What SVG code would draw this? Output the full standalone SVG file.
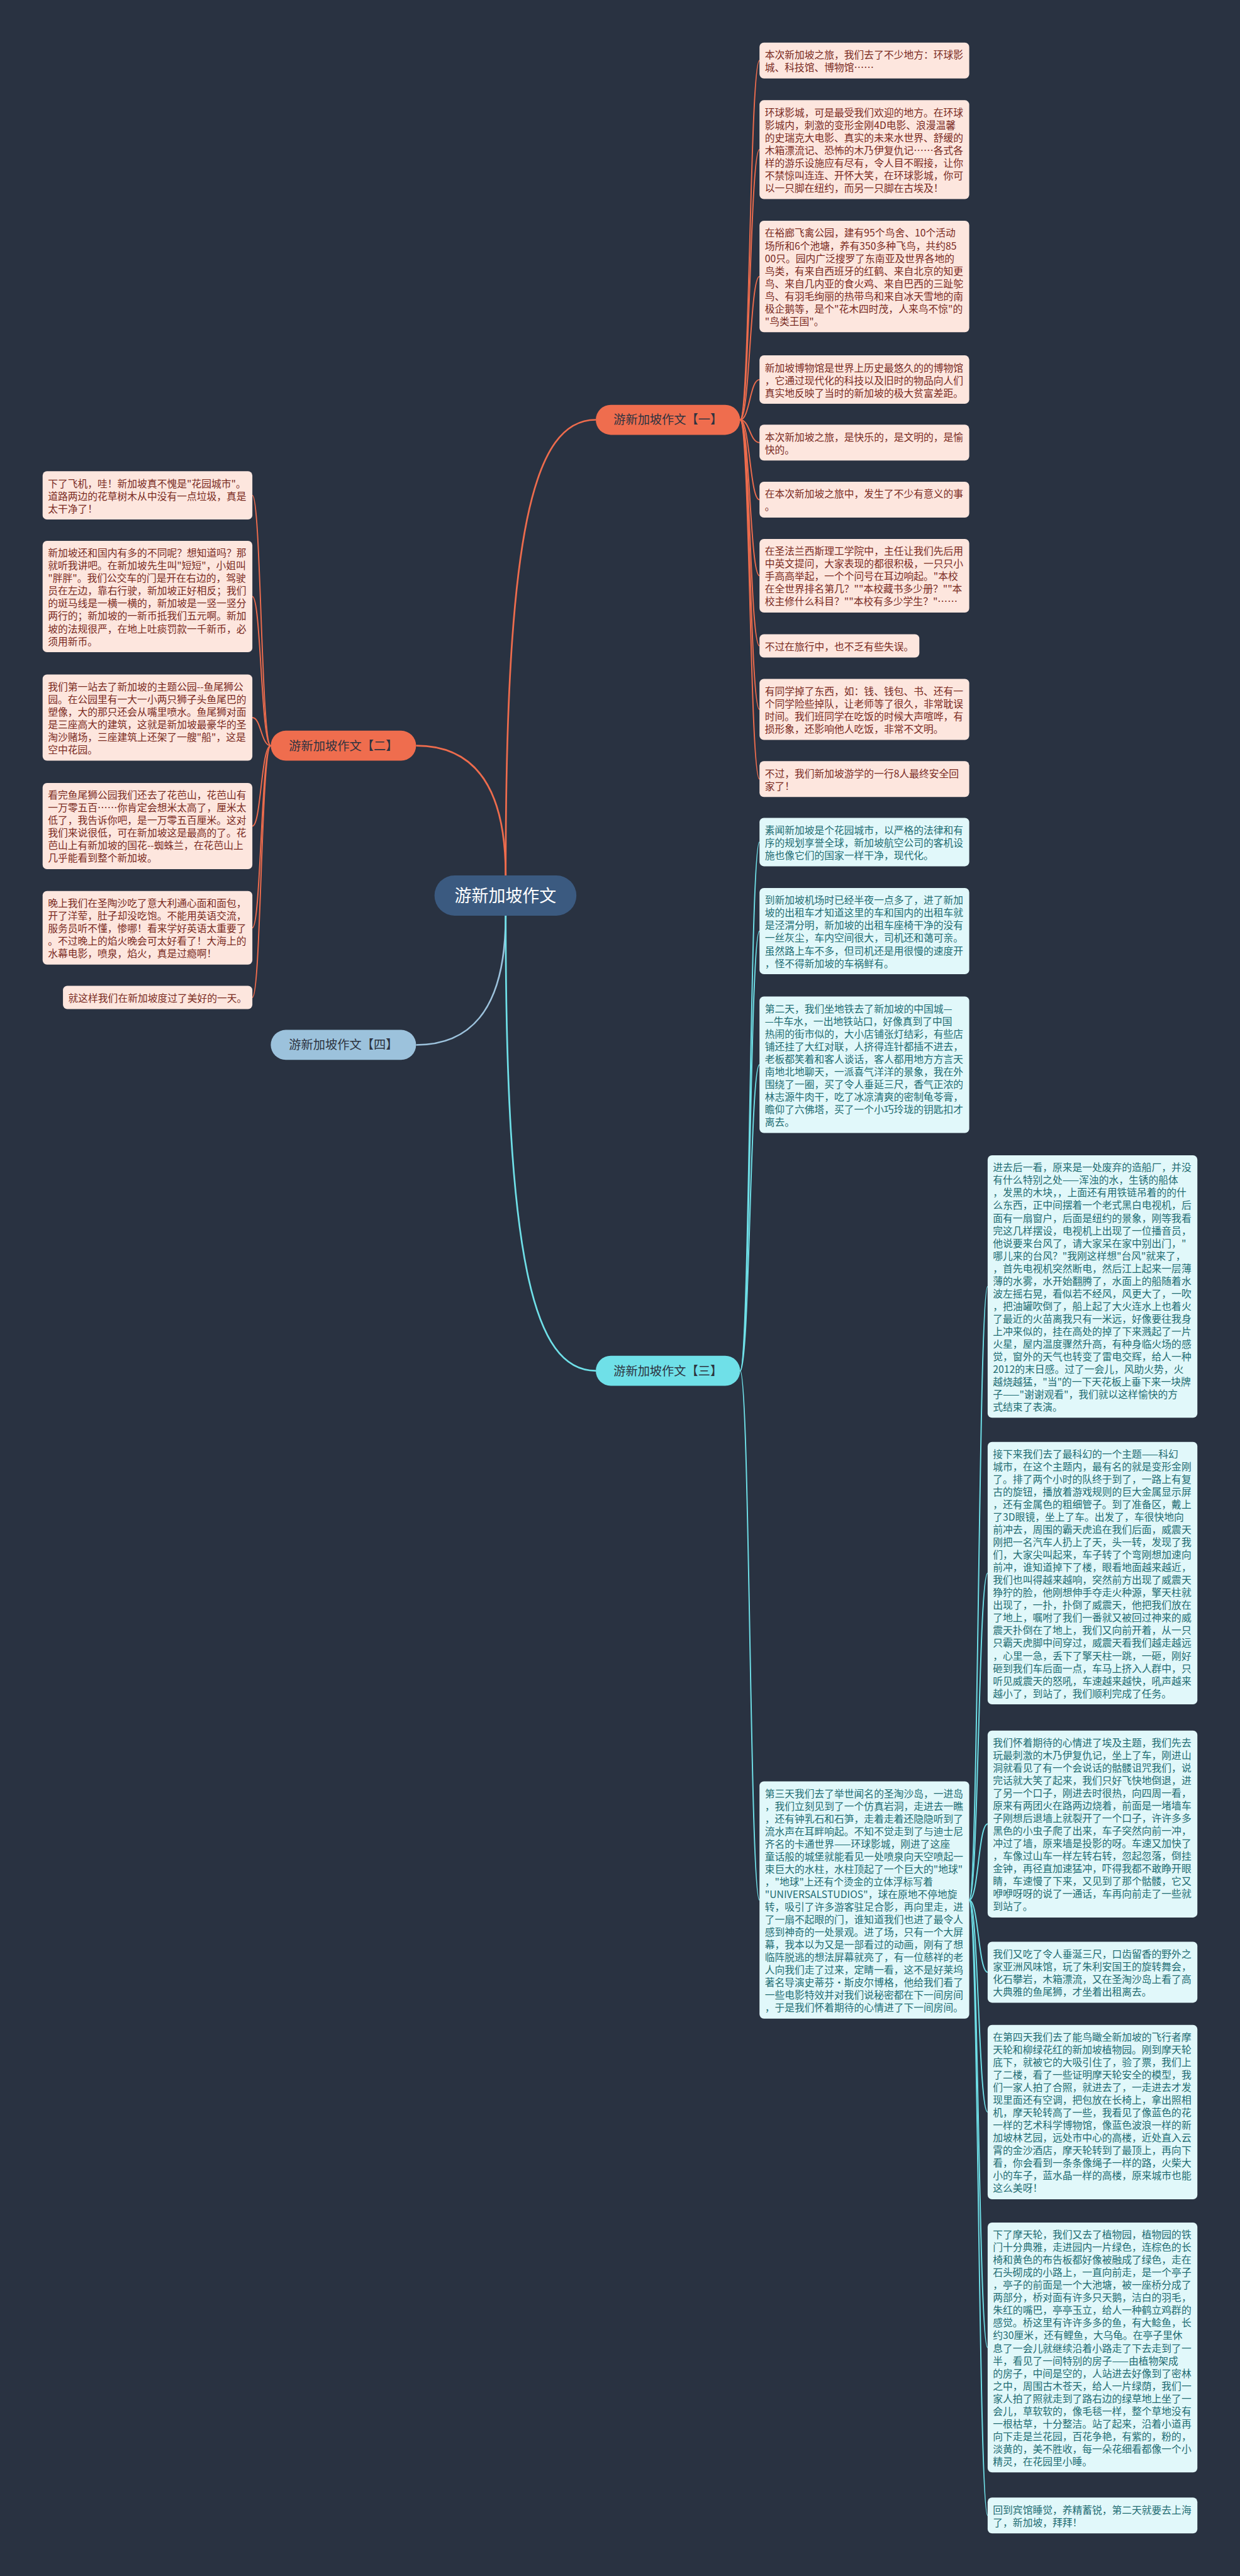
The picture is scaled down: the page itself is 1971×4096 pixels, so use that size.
<svg xmlns="http://www.w3.org/2000/svg" width="1971" height="4096" viewBox="0 0 1971 4096">
<style>
.bg{fill:#293241}
text{font-family:"Noto Sans CJK SC","Noto Sans CJK JP",sans-serif}
.lo{fill:#fde6de}
.lc{fill:#e1f8fa}
.to{fill:#7a2a1e;font-size:20.5px}
.tc{fill:#1e6c72;font-size:20.5px}
.co{fill:none;stroke:#ee6c4d;stroke-width:2.5}
.cc{fill:none;stroke:#6fe0e8;stroke-width:2.5}
.cb{fill:none;stroke:#9cc2dc;stroke-width:3.5}
.main{stroke-width:3.5}
.nt{font-size:25px;fill:#2d3340;text-anchor:middle}
</style>
<rect class="bg" x="0" y="0" width="1971" height="4096"/>
<g transform="scale(0.76992)">
<g id="connectors">
<path class="co main" d="M1044 1808 C1044 1100,1100 867,1230 867"/>
<path class="co main" d="M1044 1808 C1044 1600,960 1540,859 1540"/>
<path class="cb" d="M1044 1891 C1044 2100,960 2158,859 2158"/>
<path class="cc main" d="M1044 1891 C1044 2600,1100 2831,1230 2831"/>
<path class="co" d="M1528 867 C1548 867,1548 125,1568 125"/>
<path class="co" d="M1528 867 C1548 867,1548 309,1568 309"/>
<path class="co" d="M1528 867 C1548 867,1548 571,1568 571"/>
<path class="co" d="M1528 867 C1548 867,1548 784,1568 784"/>
<path class="co" d="M1528 867 C1548 867,1548 914,1568 914"/>
<path class="co" d="M1528 867 C1548 867,1548 1032,1568 1032"/>
<path class="co" d="M1528 867 C1548 867,1548 1189,1568 1189"/>
<path class="co" d="M1528 867 C1548 867,1548 1334,1568 1334"/>
<path class="co" d="M1528 867 C1548 867,1548 1465,1568 1465"/>
<path class="co" d="M1528 867 C1548 867,1548 1609,1568 1609"/>
<path class="co" d="M559 1540 C539 1540,539 1023,521 1023"/>
<path class="co" d="M559 1540 C539 1540,539 1232,521 1232"/>
<path class="co" d="M559 1540 C539 1540,539 1482,521 1482"/>
<path class="co" d="M559 1540 C539 1540,539 1706,521 1706"/>
<path class="co" d="M559 1540 C539 1540,539 1916,521 1916"/>
<path class="co" d="M559 1540 C539 1540,539 2060,521 2060"/>
<path class="cc" d="M1528 2831 C1548 2831,1548 1739,1568 1739"/>
<path class="cc" d="M1528 2831 C1548 2831,1548 1923,1568 1923"/>
<path class="cc" d="M1528 2831 C1548 2831,1548 2199,1568 2199"/>
<path class="cc" d="M1528 2831 C1548 2831,1548 3924,1568 3924"/>
<path class="cc" d="M2001 3924 C2020 3924,2020 2657,2039 2657"/>
<path class="cc" d="M2001 3924 C2020 3924,2020 3249,2039 3249"/>
<path class="cc" d="M2001 3924 C2020 3924,2020 3767,2039 3767"/>
<path class="cc" d="M2001 3924 C2020 3924,2020 4073,2039 4073"/>
<path class="cc" d="M2001 3924 C2020 3924,2020 4362,2039 4362"/>
<path class="cc" d="M2001 3924 C2020 3924,2020 4848,2039 4848"/>
<path class="cc" d="M2001 3924 C2020 3924,2020 5195,2039 5195"/>
</g>
<g id="root">
<rect x="897" y="1808" width="293" height="83" rx="41.5" fill="#3b5a80"/>
<text x="1043.5" y="1862" font-size="35" fill="#ffffff" text-anchor="middle">游新加坡作文</text>
</g>
<g id="branch1">
<rect x="1230" y="836" width="298" height="62" rx="31" fill="#ef6d4e"/>
<text class="nt" x="1379" y="876">游新加坡作文【一】</text>
</g>
<g id="branch2">
<rect x="559" y="1509" width="300" height="62" rx="31" fill="#ef6d4e"/>
<text class="nt" x="709" y="1549">游新加坡作文【二】</text>
</g>
<g id="branch3">
<rect x="1230" y="2800" width="298" height="62" rx="31" fill="#6fe0e8"/>
<text class="nt" x="1379" y="2840">游新加坡作文【三】</text>
</g>
<g id="branch4">
<rect x="559" y="2127" width="300" height="62" rx="31" fill="#9cc2dc"/>
<text class="nt" x="709" y="2167">游新加坡作文【四】</text>
</g>

<g id="b1"><rect class="lo" x="1568" y="88" width="433" height="74" rx="9"/>
<text class="to" x="1579" y="121"><tspan x="1579">本次新加坡之旅，我们去了不少地方：环球影</tspan><tspan x="1579" dy="26">城、科技馆、博物馆……</tspan></text></g>
<g id="b2"><rect class="lo" x="1568" y="207" width="433" height="204" rx="9"/>
<text class="to" x="1579" y="240"><tspan x="1579">环球影城，可是最受我们欢迎的地方。在环球</tspan><tspan x="1579" dy="26">影城内，刺激的变形金刚4D电影、浪漫温馨</tspan><tspan x="1579" dy="26">的史瑞克大电影、真实的未来水世界、舒缓的</tspan><tspan x="1579" dy="26">木箱漂流记、恐怖的木乃伊复仇记……各式各</tspan><tspan x="1579" dy="26">样的游乐设施应有尽有，令人目不暇接，让你</tspan><tspan x="1579" dy="26">不禁惊叫连连、开怀大笑，在环球影城，你可</tspan><tspan x="1579" dy="26">以一只脚在纽约，而另一只脚在古埃及！</tspan></text></g>
<g id="b3"><rect class="lo" x="1568" y="456" width="433" height="230" rx="9"/>
<text class="to" x="1579" y="489"><tspan x="1579">在裕廊飞禽公园，建有95个鸟舍、10个活动</tspan><tspan x="1579" dy="26">场所和6个池塘，养有350多种飞鸟，共约85</tspan><tspan x="1579" dy="26">00只。园内广泛搜罗了东南亚及世界各地的</tspan><tspan x="1579" dy="26">鸟类，有来自西班牙的红鹤、来自北京的知更</tspan><tspan x="1579" dy="26">鸟、来自几内亚的食火鸡、来自巴西的三趾鸵</tspan><tspan x="1579" dy="26">鸟、有羽毛绚丽的热带鸟和来自冰天雪地的南</tspan><tspan x="1579" dy="26">极企鹅等，是个"花木四时茂，人来鸟不惊"的</tspan><tspan x="1579" dy="26">"鸟类王国"。</tspan></text></g>
<g id="b4"><rect class="lo" x="1568" y="734" width="433" height="100" rx="9"/>
<text class="to" x="1579" y="767"><tspan x="1579">新加坡博物馆是世界上历史最悠久的的博物馆</tspan><tspan x="1579" dy="26">，它通过现代化的科技以及旧时的物品向人们</tspan><tspan x="1579" dy="26">真实地反映了当时的新加坡的极大贫富差距。</tspan></text></g>
<g id="b5"><rect class="lo" x="1568" y="877" width="433" height="74" rx="9"/>
<text class="to" x="1579" y="910"><tspan x="1579">本次新加坡之旅，是快乐的，是文明的，是愉</tspan><tspan x="1579" dy="26">快的。</tspan></text></g>
<g id="b6"><rect class="lo" x="1568" y="995" width="433" height="74" rx="9"/>
<text class="to" x="1579" y="1028"><tspan x="1579">在本次新加坡之旅中，发生了不少有意义的事</tspan><tspan x="1579" dy="26">。</tspan></text></g>
<g id="b7"><rect class="lo" x="1568" y="1113" width="433" height="152" rx="9"/>
<text class="to" x="1579" y="1146"><tspan x="1579">在圣法兰西斯理工学院中，主任让我们先后用</tspan><tspan x="1579" dy="26">中英文提问，大家表现的都很积极，一只只小</tspan><tspan x="1579" dy="26">手高高举起，一个个问号在耳边响起。"本校</tspan><tspan x="1579" dy="26">在全世界排名第几？""本校藏书多少册？""本</tspan><tspan x="1579" dy="26">校主修什么科目？""本校有多少学生？"……</tspan></text></g>
<g id="b8"><rect class="lo" x="1568" y="1310" width="330" height="48" rx="9"/>
<text class="to" x="1579" y="1343">不过在旅行中，也不乏有些失误。</text></g>
<g id="b9"><rect class="lo" x="1568" y="1402" width="433" height="126" rx="9"/>
<text class="to" x="1579" y="1435"><tspan x="1579">有同学掉了东西，如：钱、钱包、书、还有一</tspan><tspan x="1579" dy="26">个同学险些掉队，让老师等了很久，非常耽误</tspan><tspan x="1579" dy="26">时间。我们班同学在吃饭的时候大声喧哗，有</tspan><tspan x="1579" dy="26">损形象，还影响他人吃饭，非常不文明。</tspan></text></g>
<g id="b10"><rect class="lo" x="1568" y="1572" width="433" height="74" rx="9"/>
<text class="to" x="1579" y="1605"><tspan x="1579">不过，我们新加坡游学的一行8人最终安全回</tspan><tspan x="1579" dy="26">家了！</tspan></text></g>

<g id="a1"><rect class="lo" x="88" y="973" width="433" height="100" rx="9"/>
<text class="to" x="99" y="1006"><tspan x="99">下了飞机，哇！新加坡真不愧是"花园城市"。</tspan><tspan x="99" dy="26">道路两边的花草树木从中没有一点垃圾，真是</tspan><tspan x="99" dy="26">太干净了！</tspan></text></g>
<g id="a2"><rect class="lo" x="88" y="1117" width="433" height="230" rx="9"/>
<text class="to" x="99" y="1150"><tspan x="99">新加坡还和国内有多的不同呢？想知道吗？那</tspan><tspan x="99" dy="26">就听我讲吧。在新加坡先生叫"短短"，小姐叫</tspan><tspan x="99" dy="26">"胖胖"。我们公交车的门是开在右边的，驾驶</tspan><tspan x="99" dy="26">员在左边，靠右行驶，新加坡正好相反；我们</tspan><tspan x="99" dy="26">的斑马线是一横一横的，新加坡是一竖一竖分</tspan><tspan x="99" dy="26">两行的；新加坡的一新币抵我们五元啊。新加</tspan><tspan x="99" dy="26">坡的法规很严，在地上吐痰罚款一千新币，必</tspan><tspan x="99" dy="26">须用新币。</tspan></text></g>
<g id="a3"><rect class="lo" x="88" y="1393" width="433" height="178" rx="9"/>
<text class="to" x="99" y="1426"><tspan x="99">我们第一站去了新加坡的主题公园--鱼尾狮公</tspan><tspan x="99" dy="26">园。在公园里有一大一小两只狮子头鱼尾巴的</tspan><tspan x="99" dy="26">塑像，大的那只还会从嘴里喷水。鱼尾狮对面</tspan><tspan x="99" dy="26">是三座高大的建筑，这就是新加坡最豪华的圣</tspan><tspan x="99" dy="26">淘沙赌场，三座建筑上还架了一艘"船"，这是</tspan><tspan x="99" dy="26">空中花园。</tspan></text></g>
<g id="a4"><rect class="lo" x="88" y="1617" width="433" height="178" rx="9"/>
<text class="to" x="99" y="1650"><tspan x="99">看完鱼尾狮公园我们还去了花芭山，花芭山有</tspan><tspan x="99" dy="26">一万零五百……你肯定会想米太高了，厘米太</tspan><tspan x="99" dy="26">低了，我告诉你吧，是一万零五百厘米。这对</tspan><tspan x="99" dy="26">我们来说很低，可在新加坡这是最高的了。花</tspan><tspan x="99" dy="26">芭山上有新加坡的国花--蜘蛛兰，在花芭山上</tspan><tspan x="99" dy="26">几乎能看到整个新加坡。</tspan></text></g>
<g id="a5"><rect class="lo" x="88" y="1840" width="433" height="152" rx="9"/>
<text class="to" x="99" y="1873"><tspan x="99">晚上我们在圣陶沙吃了意大利通心面和面包，</tspan><tspan x="99" dy="26">开了洋荤，肚子却没吃饱。不能用英语交流，</tspan><tspan x="99" dy="26">服务员听不懂，惨哪！看来学好英语太重要了</tspan><tspan x="99" dy="26">。不过晚上的焰火晚会可太好看了！大海上的</tspan><tspan x="99" dy="26">水幕电影，喷泉，焰火，真是过瘾啊！</tspan></text></g>
<g id="a6"><rect class="lo" x="130" y="2036" width="391" height="48" rx="9"/>
<text class="to" x="141" y="2069">就这样我们在新加坡度过了美好的一天。</text></g>

<g id="c1"><rect class="lc" x="1568" y="1689" width="433" height="100" rx="9"/>
<text class="tc" x="1579" y="1722"><tspan x="1579">素闻新加坡是个花园城市，以严格的法律和有</tspan><tspan x="1579" dy="26">序的规划享誉全球，新加坡航空公司的客机设</tspan><tspan x="1579" dy="26">施也像它们的国家一样干净，现代化。</tspan></text></g>
<g id="c2"><rect class="lc" x="1568" y="1834" width="433" height="178" rx="9"/>
<text class="tc" x="1579" y="1867"><tspan x="1579">到新加坡机场时已经半夜一点多了，进了新加</tspan><tspan x="1579" dy="26">坡的出租车才知道这里的车和国内的出租车就</tspan><tspan x="1579" dy="26">是泾渭分明，新加坡的出租车座椅干净的没有</tspan><tspan x="1579" dy="26">一丝灰尘，车内空间很大，司机还和蔼可亲。</tspan><tspan x="1579" dy="26">虽然路上车不多，但司机还是用很慢的速度开</tspan><tspan x="1579" dy="26">，怪不得新加坡的车祸鲜有。</tspan></text></g>
<g id="c3"><rect class="lc" x="1568" y="2058" width="433" height="282" rx="9"/>
<text class="tc" x="1579" y="2091"><tspan x="1579">第二天，我们坐地铁去了新加坡的中国城—</tspan><tspan x="1579" dy="26">—牛车水，一出地铁站口，好像真到了中国</tspan><tspan x="1579" dy="26">热闹的街市似的，大小店铺张灯结彩，有些店</tspan><tspan x="1579" dy="26">铺还挂了大红对联，人挤得连针都插不进去，</tspan><tspan x="1579" dy="26">老板都笑着和客人谈话，客人都用地方方言天</tspan><tspan x="1579" dy="26">南地北地聊天，一派喜气洋洋的景象，我在外</tspan><tspan x="1579" dy="26">围绕了一圈，买了令人垂延三尺，香气正浓的</tspan><tspan x="1579" dy="26">林志源牛肉干，吃了冰凉清爽的密制龟苓膏，</tspan><tspan x="1579" dy="26">瞻仰了六佛塔，买了一个小巧玲珑的钥匙扣才</tspan><tspan x="1579" dy="26">离去。</tspan></text></g>
<g id="c4"><rect class="lc" x="1568" y="3679" width="433" height="490" rx="9"/>
<text class="tc" x="1579" y="3712"><tspan x="1579">第三天我们去了举世闻名的圣淘沙岛，一进岛</tspan><tspan x="1579" dy="26">，我们立刻见到了一个仿真岩洞，走进去一瞧</tspan><tspan x="1579" dy="26">，还有钟乳石和石笋，走着走着还隐隐听到了</tspan><tspan x="1579" dy="26">流水声在耳畔响起。不知不觉走到了与迪士尼</tspan><tspan x="1579" dy="26">齐名的卡通世界——环球影城，刚进了这座</tspan><tspan x="1579" dy="26">童话般的城堡就能看见一处喷泉向天空喷起一</tspan><tspan x="1579" dy="26">束巨大的水柱，水柱顶起了一个巨大的"地球"</tspan><tspan x="1579" dy="26">，"地球"上还有个烫金的立体浮标写着</tspan><tspan x="1579" dy="26">"UNIVERSALSTUDIOS"，球在原地不停地旋</tspan><tspan x="1579" dy="26">转，吸引了许多游客驻足合影，再向里走，进</tspan><tspan x="1579" dy="26">了一扇不起眼的门，谁知道我们也进了最令人</tspan><tspan x="1579" dy="26">感到神奇的一处景观。进了场，只有一个大屏</tspan><tspan x="1579" dy="26">幕，我本以为又是一部看过的动画，刚有了想</tspan><tspan x="1579" dy="26">临阵脱逃的想法屏幕就亮了，有一位慈祥的老</tspan><tspan x="1579" dy="26">人向我们走了过来，定睛一看，这不是好莱坞</tspan><tspan x="1579" dy="26">著名导演史蒂芬·斯皮尔博格，他给我们看了</tspan><tspan x="1579" dy="26">一些电影特效并对我们说秘密都在下一间房间</tspan><tspan x="1579" dy="26">，于是我们怀着期待的心情进了下一间房间。</tspan></text></g>

<g id="d1"><rect class="lc" x="2039" y="2386" width="433" height="542" rx="9"/>
<text class="tc" x="2050" y="2419"><tspan x="2050">进去后一看，原来是一处废弃的造船厂，并没</tspan><tspan x="2050" dy="26">有什么特别之处——浑浊的水，生锈的船体</tspan><tspan x="2050" dy="26">，发黑的木块，，上面还有用铁链吊着的的什</tspan><tspan x="2050" dy="26">么东西，正中间摆着一个老式黑白电视机，后</tspan><tspan x="2050" dy="26">面有一扇窗户，后面是纽约的景象，刚等我看</tspan><tspan x="2050" dy="26">完这几样摆设，电视机上出现了一位播音员，</tspan><tspan x="2050" dy="26">他说要来台风了，请大家呆在家中别出门，"</tspan><tspan x="2050" dy="26">哪儿来的台风？"我刚这样想"台风"就来了，</tspan><tspan x="2050" dy="26">，首先电视机突然断电，然后江上起来一层薄</tspan><tspan x="2050" dy="26">薄的水雾，水开始翻腾了，水面上的船随着水</tspan><tspan x="2050" dy="26">波左摇右晃，看似若不经风，风更大了，一吹</tspan><tspan x="2050" dy="26">，把油罐吹倒了，船上起了大火连水上也着火</tspan><tspan x="2050" dy="26">了最近的火苗离我只有一米远，好像要往我身</tspan><tspan x="2050" dy="26">上冲来似的，挂在高处的掉了下来溅起了一片</tspan><tspan x="2050" dy="26">火星，屋内温度骤然升高，有种身临火场的感</tspan><tspan x="2050" dy="26">觉，窗外的天气也转变了雷电交辉，给人一种</tspan><tspan x="2050" dy="26">2012的末日感。过了一会儿，风助火势，火</tspan><tspan x="2050" dy="26">越烧越猛，"当"的一下天花板上垂下来一块牌</tspan><tspan x="2050" dy="26">子——"谢谢观看"，我们就以这样愉快的方</tspan><tspan x="2050" dy="26">式结束了表演。</tspan></text></g>
<g id="d2"><rect class="lc" x="2039" y="2978" width="433" height="542" rx="9"/>
<text class="tc" x="2050" y="3011"><tspan x="2050">接下来我们去了最科幻的一个主题——科幻</tspan><tspan x="2050" dy="26">城市，在这个主题内，最有名的就是变形金刚</tspan><tspan x="2050" dy="26">了。排了两个小时的队终于到了，一路上有复</tspan><tspan x="2050" dy="26">古的旋钮，播放着游戏规则的巨大金属显示屏</tspan><tspan x="2050" dy="26">，还有金属色的粗细管子。到了准备区，戴上</tspan><tspan x="2050" dy="26">了3D眼镜，坐上了车。出发了，车很快地向</tspan><tspan x="2050" dy="26">前冲去，周围的霸天虎追在我们后面，威震天</tspan><tspan x="2050" dy="26">刚把一名汽车人扔上了天，头一转，发现了我</tspan><tspan x="2050" dy="26">们，大家尖叫起来，车子转了个弯刚想加速向</tspan><tspan x="2050" dy="26">前冲，谁知道掉下了楼，眼看地面越来越近，</tspan><tspan x="2050" dy="26">我们也叫得越来越响，突然前方出现了威震天</tspan><tspan x="2050" dy="26">狰狞的脸，他刚想伸手夺走火种源，擎天柱就</tspan><tspan x="2050" dy="26">出现了，一扑，扑倒了威震天，他把我们放在</tspan><tspan x="2050" dy="26">了地上，嘱咐了我们一番就又被回过神来的威</tspan><tspan x="2050" dy="26">震天扑倒在了地上，我们又向前开着，从一只</tspan><tspan x="2050" dy="26">只霸天虎脚中间穿过，威震天看我们越走越远</tspan><tspan x="2050" dy="26">，心里一急，丢下了擎天柱一跳，一砸，刚好</tspan><tspan x="2050" dy="26">砸到我们车后面一点，车马上挤入人群中，只</tspan><tspan x="2050" dy="26">听见威震天的怒吼，车速越来越快，吼声越来</tspan><tspan x="2050" dy="26">越小了，到站了，我们顺利完成了任务。</tspan></text></g>
<g id="d3"><rect class="lc" x="2039" y="3574" width="433" height="386" rx="9"/>
<text class="tc" x="2050" y="3607"><tspan x="2050">我们怀着期待的心情进了埃及主题，我们先去</tspan><tspan x="2050" dy="26">玩最刺激的木乃伊复仇记，坐上了车，刚进山</tspan><tspan x="2050" dy="26">洞就看见了有一个会说话的骷髅诅咒我们，说</tspan><tspan x="2050" dy="26">完话就大笑了起来，我们只好飞快地倒退，进</tspan><tspan x="2050" dy="26">了另一个口子，刚进去时很热，向四周一看，</tspan><tspan x="2050" dy="26">原来有两团火在路两边烧着，前面是一堵墙车</tspan><tspan x="2050" dy="26">子刚想后退墙上就裂开了一个口子，许许多多</tspan><tspan x="2050" dy="26">黑色的小虫子爬了出来，车子突然向前一冲，</tspan><tspan x="2050" dy="26">冲过了墙，原来墙是投影的呀。车速又加快了</tspan><tspan x="2050" dy="26">，车像过山车一样左转右转，忽起忽落，倒挂</tspan><tspan x="2050" dy="26">金钟，再径直加速猛冲，吓得我都不敢睁开眼</tspan><tspan x="2050" dy="26">睛，车速慢了下来，又见到了那个骷髅，它又</tspan><tspan x="2050" dy="26">咿咿呀呀的说了一通话，车再向前走了一些就</tspan><tspan x="2050" dy="26">到站了。</tspan></text></g>
<g id="d4"><rect class="lc" x="2039" y="4010" width="433" height="126" rx="9"/>
<text class="tc" x="2050" y="4043"><tspan x="2050">我们又吃了令人垂涎三尺，口齿留香的野外之</tspan><tspan x="2050" dy="26">家亚洲风味馆，玩了朱利安国王的旋转舞会，</tspan><tspan x="2050" dy="26">化石攀岩，木箱漂流，又在圣淘沙岛上看了高</tspan><tspan x="2050" dy="26">大典雅的鱼尾狮，才坐着出租离去。</tspan></text></g>
<g id="d5"><rect class="lc" x="2039" y="4182" width="433" height="360" rx="9"/>
<text class="tc" x="2050" y="4215"><tspan x="2050">在第四天我们去了能鸟瞰全新加坡的飞行者摩</tspan><tspan x="2050" dy="26">天轮和柳绿花红的新加坡植物园。刚到摩天轮</tspan><tspan x="2050" dy="26">底下，就被它的大吸引住了，验了票，我们上</tspan><tspan x="2050" dy="26">了二楼，看了一些证明摩天轮安全的模型，我</tspan><tspan x="2050" dy="26">们一家人拍了合照，就进去了，一走进去才发</tspan><tspan x="2050" dy="26">现里面还有空调，把包放在长椅上，拿出照相</tspan><tspan x="2050" dy="26">机，摩天轮转高了一些，我看见了像蓝色的花</tspan><tspan x="2050" dy="26">一样的艺术科学博物馆，像蓝色波浪一样的新</tspan><tspan x="2050" dy="26">加坡林艺园，远处市中心的高楼，近处直入云</tspan><tspan x="2050" dy="26">霄的金沙酒店，摩天轮转到了最顶上，再向下</tspan><tspan x="2050" dy="26">看，你会看到一条条像绳子一样的路，火柴大</tspan><tspan x="2050" dy="26">小的车子，蓝水晶一样的高楼，原来城市也能</tspan><tspan x="2050" dy="26">这么美呀！</tspan></text></g>
<g id="d6"><rect class="lc" x="2039" y="4590" width="433" height="516" rx="9"/>
<text class="tc" x="2050" y="4623"><tspan x="2050">下了摩天轮，我们又去了植物园，植物园的铁</tspan><tspan x="2050" dy="26">门十分典雅，走进园内一片绿色，连棕色的长</tspan><tspan x="2050" dy="26">椅和黄色的布告板都好像被融成了绿色，走在</tspan><tspan x="2050" dy="26">石头砌成的小路上，一直向前走，是一个亭子</tspan><tspan x="2050" dy="26">，亭子的前面是一个大池塘，被一座桥分成了</tspan><tspan x="2050" dy="26">两部分，桥对面有许多只天鹅，洁白的羽毛，</tspan><tspan x="2050" dy="26">朱红的嘴巴，亭亭玉立，给人一种鹤立鸡群的</tspan><tspan x="2050" dy="26">感觉。桥这里有许许多多的鱼，有大鲶鱼，长</tspan><tspan x="2050" dy="26">约30厘米，还有鲤鱼，大乌龟。在亭子里休</tspan><tspan x="2050" dy="26">息了一会儿就继续沿着小路走了下去走到了一</tspan><tspan x="2050" dy="26">半，看见了一间特别的房子——由植物架成</tspan><tspan x="2050" dy="26">的房子，中间是空的，人站进去好像到了密林</tspan><tspan x="2050" dy="26">之中，周围古木苍天，给人一片绿荫，我们一</tspan><tspan x="2050" dy="26">家人拍了照就走到了路右边的绿草地上坐了一</tspan><tspan x="2050" dy="26">会儿，草软软的，像毛毯一样，整个草地没有</tspan><tspan x="2050" dy="26">一根枯草，十分整洁。站了起来，沿着小道再</tspan><tspan x="2050" dy="26">向下走是兰花园，百花争艳，有紫的，粉的，</tspan><tspan x="2050" dy="26">淡黄的，美不胜收，每一朵花细看都像一个小</tspan><tspan x="2050" dy="26">精灵，在花园里小睡。</tspan></text></g>
<g id="d7"><rect class="lc" x="2039" y="5158" width="433" height="74" rx="9"/>
<text class="tc" x="2050" y="5191"><tspan x="2050">回到宾馆睡觉，养精蓄锐，第二天就要去上海</tspan><tspan x="2050" dy="26">了，新加坡，拜拜！</tspan></text></g>
</g>
</svg>
